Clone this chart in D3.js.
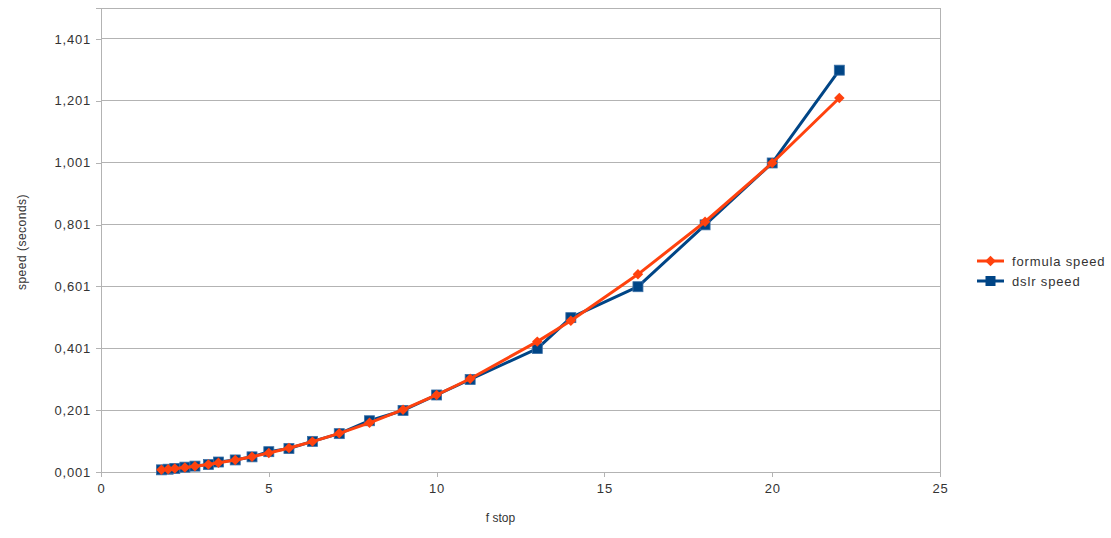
<!DOCTYPE html>
<html><head><meta charset="utf-8">
<script src="https://cdn.jsdelivr.net/npm/d3@7"></script>
<style>body{margin:0;background:#fff}svg{display:block;font-family:"Liberation Sans",Arial,sans-serif}</style>
</head><body><svg id="c" width="1111" height="538"></svg>
<script>
const fstops = [1.8, 2, 2.2, 2.5, 2.8, 3.2, 3.5, 4, 4.5, 5, 5.6, 6.3, 7.1, 8, 9, 10, 11, 13, 14, 16, 18, 20, 22];
const formulaSpeed = [0.0081, 0.01, 0.0121, 0.0156, 0.0196, 0.0256, 0.0306, 0.04, 0.0506, 0.0625, 0.0784, 0.0992, 0.126, 0.16, 0.2025, 0.25, 0.3025, 0.4225, 0.49, 0.64, 0.81, 1.0, 1.21];
const dslrSpeed = [0.008, 0.01, 0.0125, 0.0167, 0.02, 0.025, 0.0333, 0.04, 0.05, 0.0667, 0.0769, 0.1, 0.125, 0.1667, 0.2, 0.25, 0.3, 0.4, 0.5, 0.6, 0.8, 1.0, 1.3];
const yTicks = [0.001, 0.201, 0.401, 0.601, 0.801, 1.001, 1.201, 1.401];
const xTicks = [0, 5, 10, 15, 20, 25];
const seriesNames = ["formula speed", "dslr speed"];
const colors = {formula: "#ff420e", dslr: "#004586"};

const svg = d3.select("#c");
const L = 101, R = 940, T = 8, B = 472;
const x = d3.scaleLinear().domain([0, 25]).range([L, R]);
const y = d3.scaleLinear().domain([0.001, 1.501]).range([B, T]);
const fmt = v => d3.format(".3f")(v).replace(".", ",");

// gridlines
svg.append("g").selectAll("line").data(yTicks).join("line")
  .attr("x1", L).attr("x2", R).attr("y1", d => y(d)).attr("y2", d => y(d))
  .attr("stroke", "#b3b3b3").attr("stroke-width", 1).attr("shape-rendering", "crispEdges");
// frame
svg.append("rect").attr("x", L).attr("y", T).attr("width", R - L).attr("height", B - T)
  .attr("fill", "none").attr("stroke", "#b3b3b3").attr("shape-rendering", "crispEdges");

// axes
const yAxis = d3.axisLeft(y).tickValues(yTicks).tickSize(5).tickPadding(5).tickFormat(fmt);
const gy = svg.append("g").attr("transform", `translate(${L},0)`).call(yAxis);
const xAxis = d3.axisBottom(x).tickValues(xTicks).tickSize(5).tickPadding(7).tickFormat(d3.format("d"));
const gx = svg.append("g").attr("transform", `translate(0,${B})`).call(xAxis);
[gx, gy].forEach(g => {
  g.selectAll(".domain").attr("stroke", "#b3b3b3").attr("shape-rendering", "crispEdges");
  g.selectAll(".tick line").attr("stroke", "#b3b3b3").attr("shape-rendering", "crispEdges");
  g.selectAll("text").attr("fill", "#333").style("font-size", "13px")
    .style("letter-spacing", "0.8px").style("font-family", "'Liberation Sans',Arial,sans-serif");
});

// axis titles
svg.append("text").attr("transform", `translate(26,${(T + B) / 2 + 2}) rotate(-90)`)
  .attr("text-anchor", "middle").attr("fill", "#333").style("font-size", "12px")
  .style("letter-spacing", "0.5px").text("speed (seconds)");
svg.append("text").attr("x", (L + R) / 2 - 20).attr("y", 522)
  .attr("text-anchor", "middle").attr("fill", "#333").style("font-size", "12px").text("f stop");

const line = d3.line().x(d => x(d[0])).y(d => y(d[1]));
const dslr = fstops.map((f, i) => [f, dslrSpeed[i]]);
const form = fstops.map((f, i) => [f, formulaSpeed[i]]);

// dslr series
svg.append("path").datum(dslr).attr("d", line).attr("fill", "none")
  .attr("stroke", colors.dslr).attr("stroke-width", 3).attr("stroke-linejoin", "round");
svg.append("g").selectAll("rect").data(dslr).join("rect")
  .attr("x", d => x(d[0]) - 5).attr("y", d => y(d[1]) - 5).attr("width", 10).attr("height", 10)
  .attr("fill", colors.dslr).attr("stroke", "#3a6fa6").attr("stroke-width", 0.8);

// formula series
svg.append("path").datum(form).attr("d", line).attr("fill", "none")
  .attr("stroke", colors.formula).attr("stroke-width", 3).attr("stroke-linejoin", "round");
const diamond = d3.symbol().type(d3.symbolDiamond2).size(70);
svg.append("g").selectAll("path").data(form).join("path")
  .attr("transform", d => `translate(${x(d[0])},${y(d[1])})`).attr("d", diamond)
  .attr("fill", colors.formula);

// legend
const leg = svg.append("g");
seriesNames.forEach((name, i) => {
  const yy = 261 + i * 20;
  const c = i === 0 ? colors.formula : colors.dslr;
  leg.append("line").attr("x1", 977).attr("x2", 1004).attr("y1", yy).attr("y2", yy)
    .attr("stroke", c).attr("stroke-width", 3);
  if (i === 0) {
    leg.append("path").attr("transform", `translate(990.5,${yy})`).attr("d", diamond).attr("fill", c);
  } else {
    leg.append("rect").attr("x", 985.5).attr("y", yy - 5).attr("width", 10).attr("height", 10).attr("fill", c);
  }
  leg.append("text").attr("x", 1012).attr("y", yy + 5).attr("fill", "#333")
    .style("font-size", "13px").style("letter-spacing", "0.85px").text(name);
});
</script></body></html>
